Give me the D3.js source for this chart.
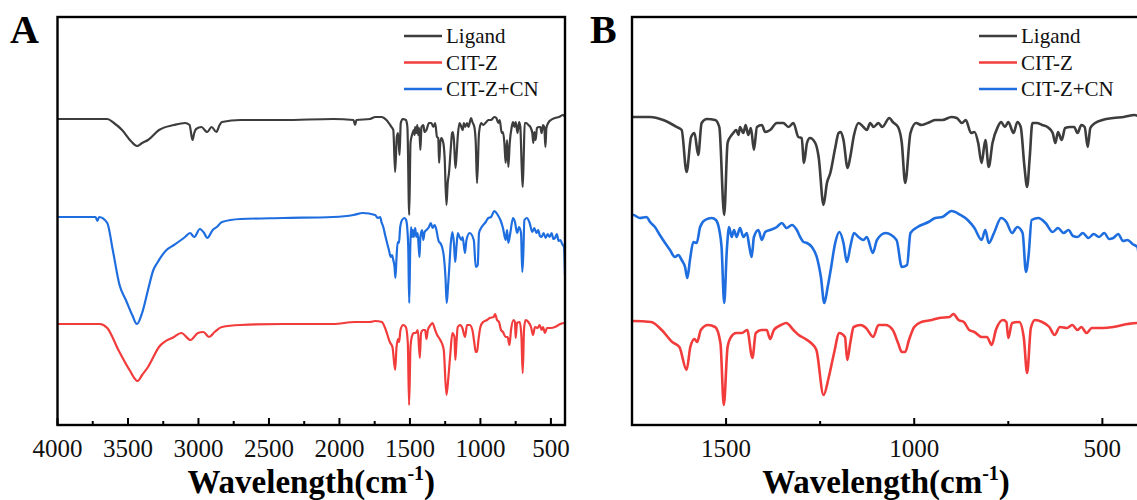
<!DOCTYPE html>
<html>
<head>
<meta charset="utf-8">
<script src="https://cdn.jsdelivr.net/npm/d3@7"></script>
<style>
  body { margin: 0; background: #fff; }
  text { font-family: "Liberation Serif", "Times New Roman", serif; }
</style>
</head>
<body>
<script>
// FT-IR spectra, transmittance in arbitrary units (traces already offset), wavenumber in cm-1
var seriesNames = ["Ligand", "CIT-Z", "CIT-Z+CN"];
var seriesColors = ["#3d3d3d", "#f23c3c", "#1f6ee0"];

var ligand = [
  [4000,306],[3800,306],[3700,306],[3647,306],[3600,302],[3542,295],[3480,284],[3437,279],[3400,282],
  [3358,285],[3280,295],[3174,300],[3095,302],[3063,300],[3043,285],[3030,292],[3017,296],[2978,298],
  [2950,294],[2938,293],[2907,298],[2873,293],[2850,300],[2833,303],[2702,305],[2400,305],[2045,306],
  [1900,305],[1889,300],[1880,305],[1783,306],[1746,308],[1702,308],[1667,305],[1631,298],[1618,295],
  [1605,253],[1593,288],[1584,292],[1574,270],[1565,302],[1551,306],[1529,305],[1518,298],[1505,210],
  [1496,282],[1489,288],[1481,292],[1473,295],[1467,290],[1463,298],[1454,292],[1448,300],[1441,290],
  [1434,297],[1426,275],[1418,298],[1405,300],[1396,293],[1383,295],[1365,302],[1348,302],[1334,298],
  [1321,302],[1308,288],[1299,287],[1293,262],[1285,282],[1277,287],[1263,282],[1254,268],[1241,220],
  [1232,242],[1223,252],[1210,277],[1201,292],[1195,293],[1188,285],[1177,257],[1170,268],[1160,290],
  [1148,302],[1135,298],[1126,295],[1117,302],[1108,298],[1095,302],[1085,298],[1066,307],[1057,303],
  [1043,298],[1033,282],[1024,242],[1010,292],[995,302],[981,300],[958,303],[944,305],[925,305],
  [901,308],[887,307],[873,302],[863,305],[849,292],[840,293],[830,282],[821,262],[811,285],[802,258],
  [792,282],[778,298],[769,303],[759,298],[750,303],[736,292],[726,303],[717,298],[707,258],[700,238],
  [693,268],[686,302],[674,302],[660,300],[646,298],[632,292],[625,282],[618,293],[608,285],[599,297],
  [585,298],[575,298],[566,292],[556,300],[547,298],[539,278],[532,297],[519,302],[500,305],[471,307],
  [443,308],[414,310],[400,308]
];

var citZ = [
  [4000,101],[3700,101],[3647,97],[3568,75],[3489,55],[3432,44],[3400,50],[3358,58],[3280,78],
  [3174,88],[3122,92],[3056,85],[3004,92],[2965,93],[2925,88],[2886,93],[2833,98],[2702,100],
  [2400,101],[2045,101],[1889,103],[1783,103],[1747,104],[1699,103],[1671,95],[1643,83],[1624,78],
  [1605,55],[1595,78],[1584,86],[1577,83],[1567,95],[1548,100],[1529,98],[1515,82],[1506,20],
  [1496,78],[1487,88],[1473,92],[1458,92],[1444,95],[1430,67],[1421,92],[1406,95],[1392,95],
  [1383,86],[1373,95],[1354,100],[1340,102],[1321,95],[1307,90],[1293,87],[1274,82],[1260,75],
  [1241,30],[1227,48],[1213,72],[1199,92],[1184,88],[1178,65],[1170,82],[1161,98],[1142,100],
  [1128,97],[1109,88],[1095,100],[1076,100],[1057,95],[1043,82],[1033,73],[1024,73],[1014,85],
  [1000,98],[981,103],[953,105],[934,107],[906,108],[896,111],[882,105],[868,103],[854,95],[840,93],
  [821,88],[807,88],[794,80],[783,95],[764,105],[755,103],[750,87],[740,102],[721,103],[709,88],
  [700,52],[690,97],[679,105],[660,103],[641,98],[627,90],[613,98],[594,97],[580,100],[566,95],
  [556,98],[542,92],[528,97],[500,97],[471,98],[433,101],[407,102],[400,102]
];

var citZCN = [
  [4000,208],[3850,208],[3730,208],[3717,204],[3705,208],[3647,202],[3608,175],[3560,140],[3515,125],
  [3470,110],[3437,101],[3400,112],[3358,135],[3320,155],[3293,162],[3227,175],[3174,180],[3095,188],
  [3060,192],[3030,188],[2990,196],[2960,192],[2938,187],[2899,195],[2870,198],[2833,203],[2702,206],
  [2400,207],[2045,208],[1900,210],[1835,212],[1746,210],[1729,207],[1711,208],[1702,203],[1689,198],
  [1676,190],[1662,182],[1649,175],[1636,168],[1627,170],[1618,165],[1609,158],[1603,147],[1596,165],
  [1587,183],[1578,182],[1569,198],[1556,205],[1538,207],[1527,205],[1518,195],[1512,178],[1505,122],
  [1498,175],[1492,198],[1485,188],[1479,195],[1472,188],[1463,197],[1454,188],[1445,192],[1438,178],
  [1432,168],[1426,188],[1414,195],[1405,185],[1396,193],[1383,195],[1365,198],[1352,202],[1339,197],
  [1325,200],[1312,195],[1303,188],[1294,183],[1285,182],[1272,178],[1259,168],[1248,148],[1239,122],
  [1230,138],[1222,155],[1210,182],[1199,193],[1188,182],[1179,163],[1170,178],[1160,192],[1148,188],
  [1135,185],[1126,188],[1110,172],[1099,185],[1076,192],[1047,185],[1033,158],[1019,160],[1010,192],
  [991,198],[962,203],[944,207],[925,208],[901,214],[877,210],[858,205],[840,197],[821,185],[811,195],
  [802,182],[788,192],[769,207],[755,203],[740,192],[726,198],[712,192],[703,153],[696,170],[688,205],
  [670,207],[651,202],[632,193],[618,197],[603,192],[590,195],[578,189],[566,188],[552,192],[537,187],
  [523,191],[509,188],[495,192],[482,186],[471,187],[458,191],[445,184],[433,185],[420,181],[407,178],
  [400,150]
];

var allSeries = [ligand, citZ, citZCN];

var domainA = [4000, 400];
var majorTicksA = [4000, 3500, 3000, 2500, 2000, 1500, 1000, 500];
var minorTicksA = [3750, 3250, 2750, 2250, 1750, 1250, 750];
var domainB = [1750, 400];
var majorTicksB = [1500, 1000, 500];
var minorTicksB = [1250, 750];

var W = 1137, H = 500;
var plotTop = 17, plotBottom = 425;

var svg = d3.select("body").append("svg")
  .attr("width", W)
  .attr("height", H);

var y = d3.scaleLinear().domain([0, 408]).range([plotBottom, plotTop]);

var panels = [
  { id: "A", left: 57.5, right: 565, domain: domainA, major: majorTicksA, minor: minorTicksA,
    labelX: 10, legendX: 404, width: 2.2 },
  { id: "B", left: 632, right: 1140, domain: domainB, major: majorTicksB, minor: minorTicksB,
    labelX: 590, legendX: 979, width: 2.6 }
];

panels.forEach(function(p) {
  var x = d3.scaleLinear().domain(p.domain).range([p.left, p.right]);
  var g = svg.append("g").attr("class", "panel-" + p.id);

  g.append("clipPath").attr("id", "clip" + p.id)
    .append("rect")
    .attr("x", p.left).attr("y", plotTop)
    .attr("width", p.right - p.left).attr("height", plotBottom - plotTop);

  var line = d3.line()
    .curve(d3.curveMonotoneX)
    .x(function(d) { return x(d[0]); })
    .y(function(d) { return y(d[1]); });

  //spectra
  g.append("g").attr("clip-path", "url(#clip" + p.id + ")")
    .selectAll("path")
    .data(allSeries)
    .enter()
    .append("path")
    .attr("d", line)
    .attr("fill", "none")
    .attr("stroke", function(d, i) { return seriesColors[i]; })
    .attr("stroke-width", p.width)
    .attr("stroke-linejoin", "round");

  //frame
  g.append("rect")
    .attr("x", p.left).attr("y", plotTop)
    .attr("width", p.right - p.left).attr("height", plotBottom - plotTop)
    .attr("fill", "none")
    .attr("stroke", "#000")
    .attr("stroke-width", 2.4);

  //ticks (inside, bottom only)
  g.selectAll(".major")
    .data(p.major)
    .enter()
    .append("line")
    .attr("x1", function(d) { return x(d); })
    .attr("x2", function(d) { return x(d); })
    .attr("y1", plotBottom).attr("y2", plotBottom - 7)
    .attr("stroke", "#000").attr("stroke-width", 2);
  g.selectAll(".minor")
    .data(p.minor)
    .enter()
    .append("line")
    .attr("x1", function(d) { return x(d); })
    .attr("x2", function(d) { return x(d); })
    .attr("y1", plotBottom).attr("y2", plotBottom - 4)
    .attr("stroke", "#000").attr("stroke-width", 2);

  g.selectAll(".ticklabel")
    .data(p.major)
    .enter()
    .append("text")
    .attr("x", function(d) { return x(d); })
    .attr("y", 457)
    .attr("text-anchor", "middle")
    .attr("font-size", 25)
    .attr("fill", "#111")
    .text(function(d) { return d; });

  //axis title
  var cx = (p.left + p.right) / 2;
  var title = g.append("text")
    .attr("x", cx).attr("y", 493)
    .attr("text-anchor", "middle")
    .attr("font-size", 33)
    .attr("font-weight", "bold")
    .attr("fill", "#000");
  title.append("tspan").text("Wavelength(cm");
  title.append("tspan").attr("font-size", 20).attr("dy", -13).text("-1");
  title.append("tspan").attr("dy", 13).text(")");

  //panel letter
  g.append("text")
    .attr("x", p.labelX).attr("y", 43)
    .attr("font-size", 40)
    .attr("font-weight", "bold")
    .attr("fill", "#000")
    .text(p.id);

  //legend
  var legend = g.append("g").attr("class", "legend");
  legend.selectAll("line")
    .data(seriesNames)
    .enter()
    .append("line")
    .attr("x1", p.legendX).attr("x2", p.legendX + 38)
    .attr("y1", function(d, i) { return 36 + i * 26.5; })
    .attr("y2", function(d, i) { return 36 + i * 26.5; })
    .attr("stroke", function(d, i) { return seriesColors[i]; })
    .attr("stroke-width", 2.6);
  legend.selectAll("text")
    .data(seriesNames)
    .enter()
    .append("text")
    .attr("x", p.legendX + 42)
    .attr("y", function(d, i) { return 43 + i * 26.5; })
    .attr("font-size", 21)
    .attr("fill", "#111")
    .text(function(d) { return d; });
});
</script>
</body>
</html>
